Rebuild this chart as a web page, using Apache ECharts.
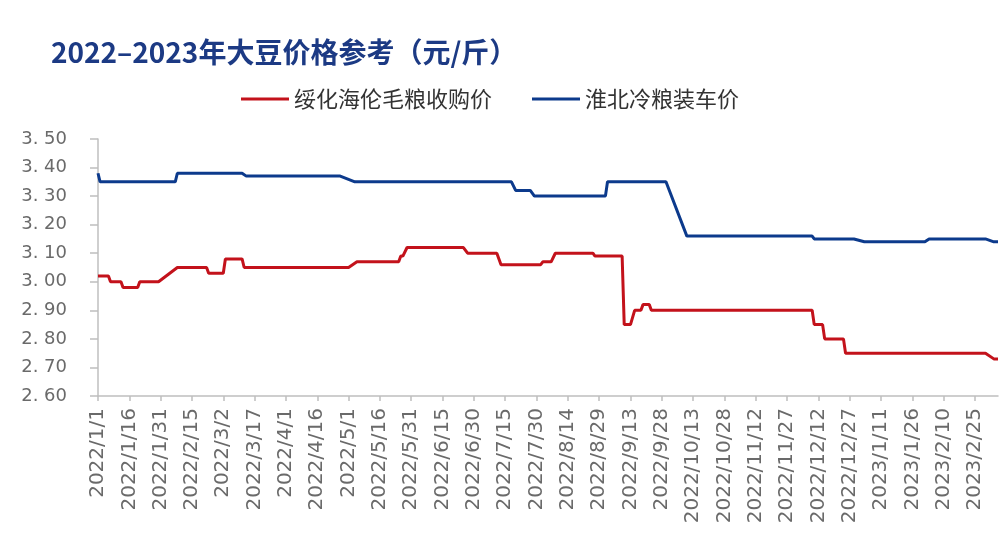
<!DOCTYPE html>
<html>
<head>
<meta charset="utf-8">
<script src="https://cdn.jsdelivr.net/npm/echarts@6/dist/echarts.min.js"></script>
<style>
html,body{margin:0;padding:0;background:#fff;}
#chart{width:1008px;height:550px;}
</style>
</head>
<body>
<div id="chart"></div>
<script>
// ---- Data ----
var titleText = '2022–2023年大豆价格参考（元/斤）';
var seriesNames = ['绥化海伦毛粮收购价', '淮北冷粮装车价'];
var startDate = '2022/1/1';
var endDate = '2023/3/8';
var yTicks = [2.6, 2.7, 2.8, 2.9, 3.0, 3.1, 3.2, 3.3, 3.4, 3.5];

// Change points: [date, price]
var redKeys = [
  ['2022/1/1',3.02],['2022/1/6',3.02],['2022/1/7',3.00],['2022/1/12',3.00],['2022/1/13',2.98],
  ['2022/1/20',2.98],['2022/1/21',3.00],['2022/1/30',3.00],['2022/2/8',3.05],['2022/2/22',3.05],
  ['2022/2/23',3.03],['2022/3/2',3.03],['2022/3/3',3.08],['2022/3/11',3.08],['2022/3/12',3.05],
  ['2022/5/1',3.05],['2022/5/5',3.07],['2022/5/25',3.07],['2022/5/26',3.09],['2022/5/27',3.09],
  ['2022/5/29',3.12],['2022/6/25',3.12],['2022/6/27',3.10],['2022/7/11',3.10],['2022/7/13',3.06],
  ['2022/8/1',3.06],['2022/8/2',3.07],['2022/8/6',3.07],['2022/8/8',3.10],['2022/8/26',3.10],
  ['2022/8/27',3.09],['2022/9/9',3.09],['2022/9/10',2.85],['2022/9/13',2.85],['2022/9/15',2.90],
  ['2022/9/18',2.90],['2022/9/19',2.92],['2022/9/22',2.92],['2022/9/23',2.90],['2022/12/9',2.90],
  ['2022/12/10',2.85],['2022/12/14',2.85],['2022/12/15',2.80],['2022/12/24',2.80],['2022/12/25',2.75],
  ['2023/3/2',2.75],['2023/3/6',2.73],['2023/3/8',2.73]
];
var blueKeys = [
  ['2022/1/1',3.38],['2022/1/2',3.35],['2022/2/7',3.35],['2022/2/8',3.38],['2022/3/11',3.38],
  ['2022/3/13',3.37],['2022/4/27',3.37],['2022/5/4',3.35],['2022/7/18',3.35],['2022/7/20',3.32],
  ['2022/7/27',3.32],['2022/7/29',3.30],['2022/9/1',3.30],['2022/9/2',3.35],['2022/9/30',3.35],
  ['2022/10/10',3.16],['2022/12/9',3.16],['2022/12/10',3.15],['2022/12/29',3.15],['2023/1/3',3.14],
  ['2023/2/1',3.14],['2023/2/3',3.15],['2023/3/2',3.15],['2023/3/6',3.14],['2023/3/8',3.14]
];

// ---- Build categories (daily dates) ----
function parseD(s){var p=s.split('/');return new Date(+p[0],+p[1]-1,+p[2]);}
function fmtD(d){return d.getFullYear()+'/'+(d.getMonth()+1)+'/'+d.getDate();}
var categories = [];
(function(){
  var d = parseD(startDate), e = parseD(endDate);
  while (d <= e) { categories.push(fmtD(d)); d = new Date(d.getFullYear(), d.getMonth(), d.getDate()+1); }
})();
var idx = {};
categories.forEach(function(c,i){idx[c]=i;});
function build(keys){
  var arr = categories.map(function(){return null;});
  keys.forEach(function(k){ arr[idx[k[0]]] = k[1]; });
  return arr;
}
var redData = build(redKeys);
var blueData = build(blueKeys);

var chart = echarts.init(document.getElementById('chart'));
chart.setOption({
  backgroundColor: '#ffffff',
  animation: false,
  title: {
    text: titleText,
    left: 46, top: 33,
    textStyle: {fontFamily: 'Noto Sans CJK SC', fontSize: 28, fontWeight: 'bold', color: '#1c3a84'}
  },
  legend: {
    left: 236, top: 83,
    itemWidth: 48, itemHeight: 3, itemGap: 40,
    icon: 'rect',
    data: seriesNames,
    textStyle: {fontFamily: 'Noto Sans CJK SC', fontSize: 22, color: '#333333'}
  },
  grid: {left: 98, right: 10, top: 139, bottom: 154, containLabel: false},
  xAxis: {
    type: 'category',
    data: categories,
    boundaryGap: false,
    axisLine: {lineStyle: {color: '#bfbfbf', width: 1.5}},
    axisTick: {interval: 14, length: 5, lineStyle: {color: '#bfbfbf', width: 1.5}},
    axisLabel: {interval: 14, rotate: 90, margin: 12, fontFamily: 'DejaVu Sans', fontSize: 20, color: '#6a6a6a'},
    splitLine: {show: false}
  },
  yAxis: {
    type: 'value',
    min: yTicks[0], max: yTicks[yTicks.length-1], interval: 0.1,
    axisLine: {show: true, lineStyle: {color: '#bfbfbf', width: 1.5}},
    axisTick: {show: true, length: 8, lineStyle: {color: '#bfbfbf', width: 1.5}},
    axisLabel: {margin: 31, fontFamily: 'DejaVu Sans', fontSize: 18, color: '#6a6a6a',
      formatter: function(v){return v.toFixed(2).replace('.', '. ');}},
    splitLine: {show: false}
  },
  series: [
    {name: seriesNames[0], type: 'line', data: redData, connectNulls: true, showSymbol: false,
      lineStyle: {width: 3, color: '#c3121b'}, itemStyle: {color: '#c3121b'}},
    {name: seriesNames[1], type: 'line', data: blueData, connectNulls: true, showSymbol: false,
      lineStyle: {width: 3, color: '#0c3a8c'}, itemStyle: {color: '#0c3a8c'}}
  ]
});
</script>
</body>
</html>
